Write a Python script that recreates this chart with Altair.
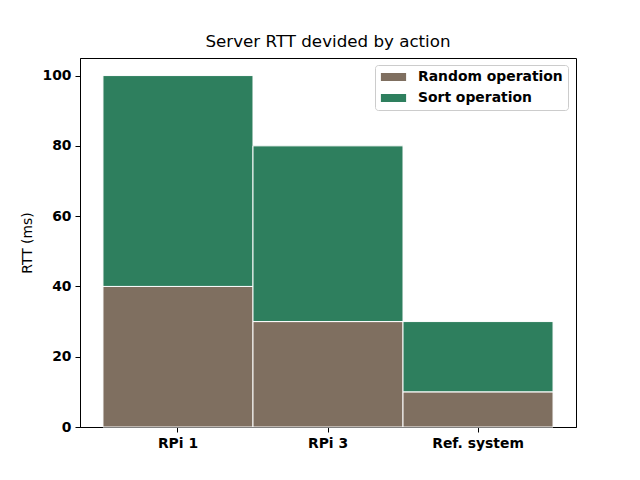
import altair as alt
import pandas as pd

systems = ["RPi 1", "RPi 3", "Ref. system"]
random_op = [40, 30, 10]
sort_op = [60, 50, 20]
series = ["Random operation", "Sort operation"]
colors = ["#7f6f60", "#2e7f5e"]

rows = []
for i, s in enumerate(systems):
    rows.append({"system": s, "action": series[0], "rtt": random_op[i], "ord": 0})
    rows.append({"system": s, "action": series[1], "rtt": sort_op[i], "ord": 1})
df = pd.DataFrame(rows)

font = "DejaVu Sans"

chart = alt.Chart(df).mark_bar(stroke="white", strokeWidth=1).encode(
    x=alt.X("system:N", sort=systems,
            scale=alt.Scale(paddingInner=0, paddingOuter=0.153),
            axis=alt.Axis(title=None, labelAngle=0, labelFont=font, labelFontSize=13.9,
                          labelFontWeight="bold", labelColor="black", tickColor="black",
                          domainColor="black", tickSize=5, labelPadding=4, grid=False)),
    y=alt.Y("rtt:Q", stack="zero",
            scale=alt.Scale(domain=[0, 105], nice=False),
            axis=alt.Axis(title="RTT (ms)", values=[0, 20, 40, 60, 80, 100],
                          labelFont=font, labelFontSize=13.9, labelFontWeight="bold",
                          labelColor="black", tickColor="black", domainColor="black",
                          tickSize=5, labelPadding=4, grid=False,
                          titleFont=font, titleFontSize=13.9, titleFontWeight="normal",
                          titleColor="black", titlePadding=8)),
    color=alt.Color("action:N", scale=alt.Scale(domain=series, range=colors),
                    legend=alt.Legend(title=None, orient="none", legendX=295, legendY=7,
                                      labelFont=font, labelFontSize=13.9, labelFontWeight="bold",
                                      labelColor="black",
                                      symbolType="M-1.8,-0.57H1.8V0.57H-1.8Z", symbolSize=196,
                                      symbolStrokeWidth=0, symbolOffset=6.5, labelOffset=17.5,
                                      rowPadding=7, padding=5, strokeColor="#cccccc",
                                      fillColor="white", cornerRadius=3)),
    order=alt.Order("ord:Q"),
).properties(
    width=496, height=369,
    title=alt.TitleParams("Server RTT devided by action", font=font, fontSize=16.7,
                          fontWeight="normal", color="black", offset=7),
    autosize=alt.AutoSizeParams(type="none"),
    padding={"left": 80, "top": 58, "right": 64, "bottom": 53},
).configure(background="white").configure_view(stroke="black", strokeWidth=1)

chart.save("out.html", embed_options={"renderer": "svg", "actions": False})
